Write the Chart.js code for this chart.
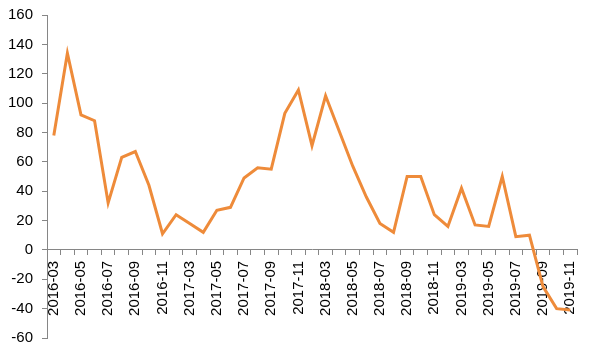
<!DOCTYPE html>
<html>
<head>
<meta charset="utf-8">
<script src="https://cdn.jsdelivr.net/npm/chart.js@4/dist/chart.umd.min.js"></script>
<style>
    body { margin: 0; background: #ffffff; }
    #chart-holder { width: 592px; height: 353px; }
</style>
</head>
<body>
<div id="chart-holder"></div>
<script>
// Monthly categories (Jan/Feb are missing in the source series)
const months2016 = ['2016-03', '2016-04', '2016-05', '2016-06', '2016-07', '2016-08', '2016-09', '2016-10', '2016-11', '2016-12'];
const months2017 = ['2017-03', '2017-04', '2017-05', '2017-06', '2017-07', '2017-08', '2017-09', '2017-10', '2017-11', '2017-12'];
const months2018 = ['2018-03', '2018-04', '2018-05', '2018-06', '2018-07', '2018-08', '2018-09', '2018-10', '2018-11', '2018-12'];
const months2019 = ['2019-03', '2019-04', '2019-05', '2019-06', '2019-07', '2019-08', '2019-09', '2019-10', '2019-11'];

const values2016 = [78, 134, 92, 88, 32, 63, 67, 44, 11, 24];
const values2017 = [18, 12, 27, 29, 49, 56, 55, 93, 109, 71];
const values2018 = [105, 81, 57, 36, 18, 12, 50, 50, 24, 16];
const values2019 = [42, 17, 16, 50, 9, 10, -25, -40, -41];

const yMin = -60;
const yMax = 160;
const yStep = 20;

const labels = months2016.concat(months2017, months2018, months2019);
const values = values2016.concat(values2017, values2018, values2019);

const axisColor = '#868686';
const lineColor = '#EE8B3A';
const tickFont = { family: 'Liberation Sans', size: 15 };


function chartConfig() {
    return {
        type: 'line',
        data: {
            labels: labels,
            datasets: [{
                data: values,
                borderColor: lineColor,
                borderWidth: 3,
                pointRadius: 0,
                tension: 0,
                fill: false
            }]
        },
        options: {
            responsive: false,
            animation: false,
            layout: {
                padding: { left: 0, top: 15, right: 15, bottom: 15 }
            },
            scales: {
                x: {
                    type: 'category',
                    // x axis crosses at zero, like the Excel original
                    position: { y: 0 },
                    offset: true,
                    afterFit: function (scale) {
                        scale.paddingLeft = 0;
                        scale.paddingRight = 0;
                    },
                    grid: {
                        offset: true,
                        drawOnChartArea: false,
                        drawTicks: true,
                        tickLength: 5,
                        color: axisColor
                    },
                    border: { color: axisColor, width: 1 },
                    ticks: {
                        autoSkip: false,
                        minRotation: 90,
                        maxRotation: 90,
                        padding: 6,
                        color: '#000000',
                        font: tickFont,
                        // only every other month gets a label
                        callback: function (value, index) {
                            return index % 2 === 0 ? this.getLabelForValue(value) : '';
                        }
                    }
                },
                y: {
                    min: yMin,
                    max: yMax,
                    // fixed width and no label overflow so the plot area matches the original
                    afterFit: function (scale) {
                        scale.width = 47;
                        scale.paddingTop = 0;
                        scale.paddingBottom = 0;
                    },
                    grid: {
                        drawOnChartArea: false,
                        drawTicks: true,
                        tickLength: 5,
                        color: axisColor
                    },
                    border: { color: axisColor, width: 1 },
                    ticks: {
                        stepSize: yStep,
                        padding: 9,
                        color: '#000000',
                        font: tickFont
                    }
                }
            },
            plugins: {
                legend: { display: false },
                tooltip: { enabled: false }
            }
        }
    };
};


function buildChart(holderID) {
    const holder = document.getElementById(holderID);
    const canvas = document.createElement('canvas');
    canvas.width = 592;
    canvas.height = 353;
    holder.appendChild(canvas);
    new Chart(canvas.getContext('2d'), chartConfig());
};

buildChart('chart-holder');
</script>
</body>
</html>
